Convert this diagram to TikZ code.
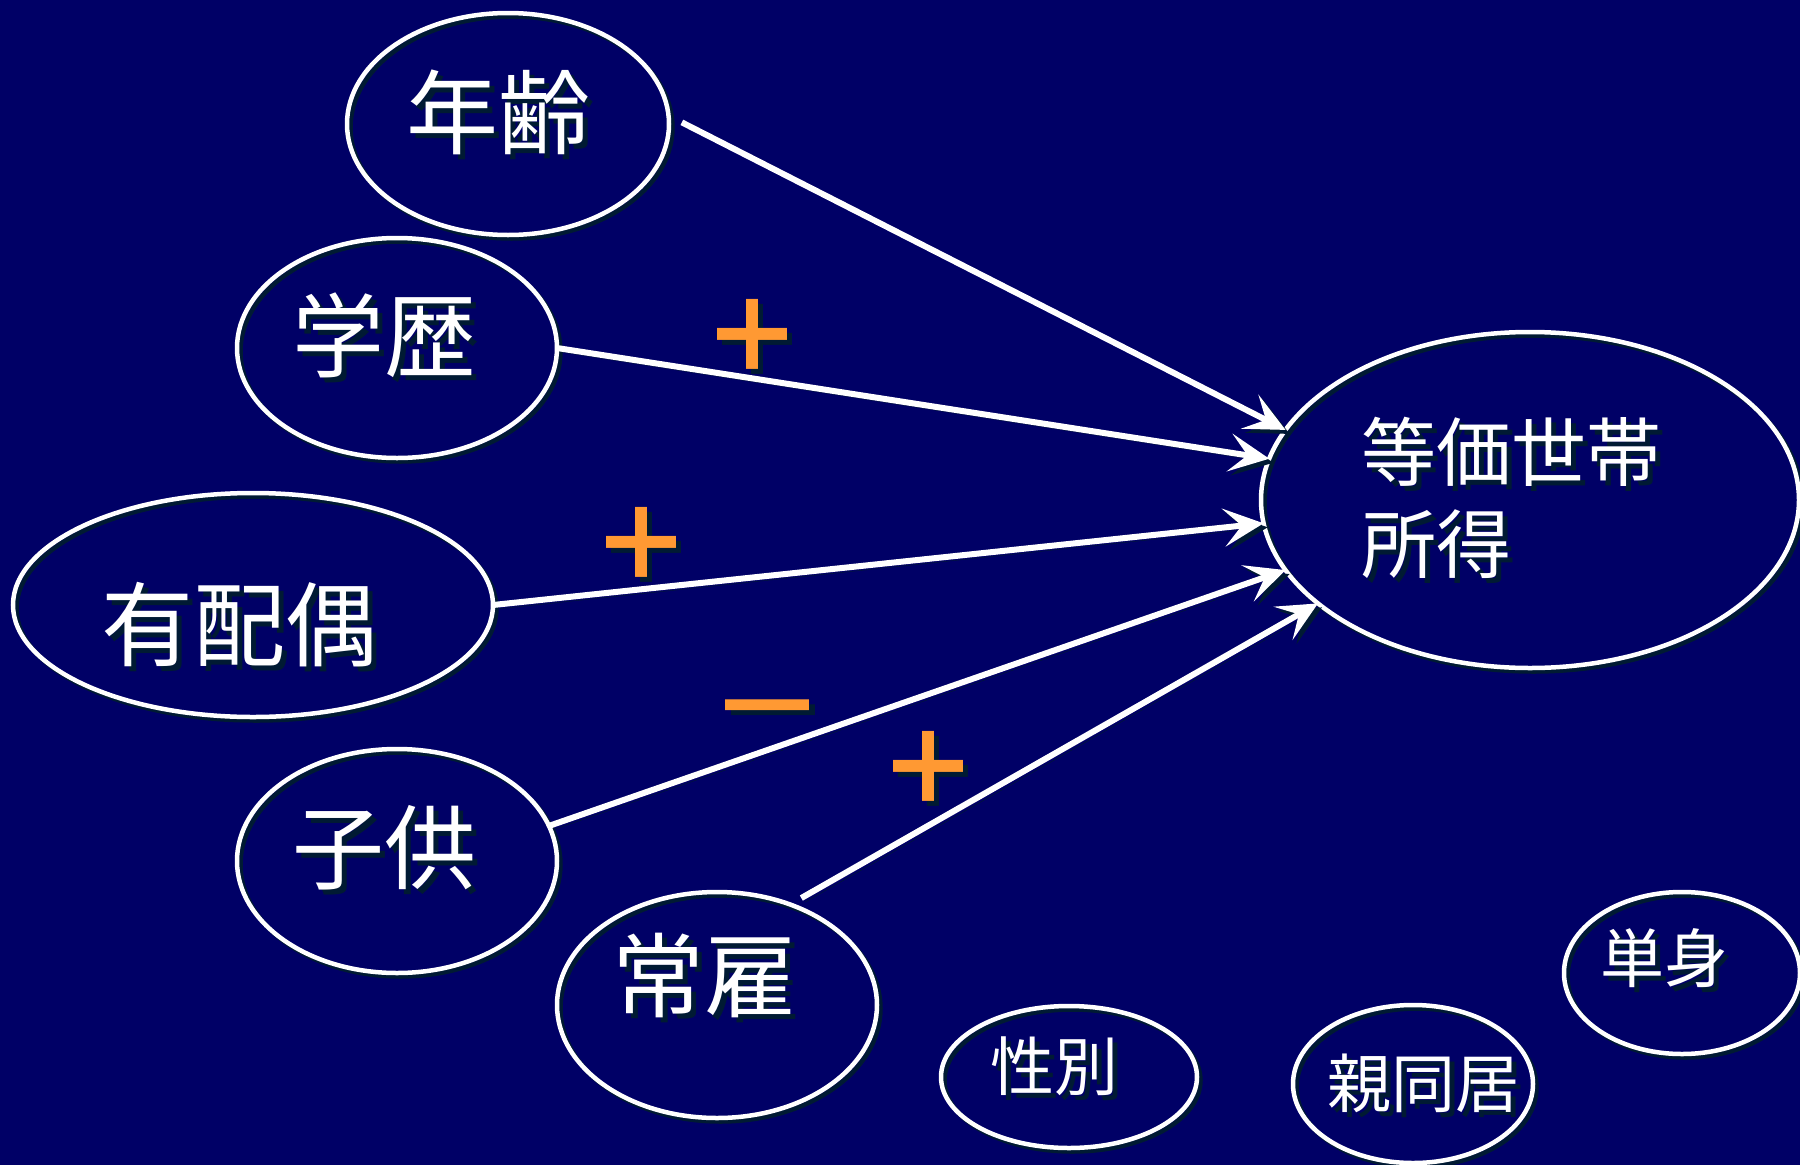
\documentclass[tikz,border=0pt]{standalone}
\usepackage{fontspec}
\setmainfont{Noto Sans CJK JP}
\usetikzlibrary{shapes.geometric,arrows.meta}
\definecolor{bg}{HTML}{000066}
\definecolor{shadowc}{HTML}{001A33}
\definecolor{plusc}{HTML}{FF9933}
\newcommand\shtxt[1]{\makebox[0pt][l]{\raisebox{-5pt}{\hspace{5pt}\textcolor{shadowc}{#1}}}#1}
\begin{document}
\begin{tikzpicture}[x=1pt,y=-1pt,
  oval/.style={ellipse, draw=white, line width=4.5pt, inner sep=0pt, outer sep=0pt,
     preaction={draw=shadowc, line width=4.5pt, transform canvas={shift={(3.5pt,-3.5pt)}}}},
  bigtxt/.style={text=white, font=\fontsize{92}{92}\selectfont, inner sep=0pt},
  midtxt/.style={text=white, font=\fontsize{75}{92}\selectfont, inner sep=0pt, align=left},
  smalltxt/.style={text=white, font=\fontsize{64}{64}\selectfont, inner sep=0pt},
  pm/.style={text=plusc, font=\fontsize{100}{100}\selectfont\bfseries, inner sep=0pt},
  conn/.style={draw=white, line width=6pt, -{Stealth[length=40pt,width=38pt,inset=18pt]},
     preaction={draw=shadowc, transform canvas={shift={(4pt,-4pt)}}}}
]
\fill[bg] (0,0) rectangle (1800,1165);
\useasboundingbox (0,0) rectangle (1800,1165);

\node[oval, minimum width=322pt, minimum height=222pt,
  label={[bigtxt, xshift=-10pt, yshift=9pt]center:\shtxt{年齢}}] (nenrei) at (508,124) {};
\node[oval, minimum width=320pt, minimum height=220pt,
  label={[bigtxt, xshift=-13pt, yshift=10pt]center:\shtxt{学歴}}] (gakureki) at (397,348) {};
\node[oval, minimum width=480pt, minimum height=224pt,
  label={[bigtxt, xshift=-14pt, yshift=-22pt]center:\shtxt{有配偶}}] (haiguu) at (253,605) {};
\node[oval, minimum width=320pt, minimum height=224pt,
  label={[bigtxt, xshift=-13pt, yshift=11pt]center:\shtxt{子供}}] (kodomo) at (397,861) {};
\node[oval, minimum width=320pt, minimum height=226pt,
  label={[bigtxt, xshift=-13pt, yshift=27pt]center:\shtxt{常雇}}] (joyo) at (717,1005) {};
\node[oval, minimum width=538pt, minimum height=336pt,
  label={[midtxt, xshift=-19pt, yshift=0pt]center:\shtxt{等価世帯}\\\shtxt{所得}}] (shotoku) at (1530,500) {};
\node[oval, minimum width=256pt, minimum height=142pt,
  label={[smalltxt, xshift=-15pt, yshift=8pt]center:\shtxt{性別}}] (seibetsu) at (1069,1077) {};
\node[oval, minimum width=240pt, minimum height=158pt,
  label={[smalltxt, xshift=10pt, yshift=-2pt]center:\shtxt{親同居}}] (dokyo) at (1413,1084) {};
\node[oval, minimum width=236pt, minimum height=162pt,
  label={[smalltxt, xshift=-18pt, yshift=12pt]center:\shtxt{単身}}] (tanshin) at (1682,973) {};

\draw[conn, shorten <=15pt] (nenrei.3) -- (shotoku.164);
\draw[conn] (gakureki.east) -- (shotoku.171);
\draw[conn] (haiguu.east) -- (shotoku.185);
\draw[conn] (kodomo.13) -- (shotoku.196);
\draw[conn, shorten <=13pt] (joyo.54) -- (shotoku.206);

\node[pm] (p1) at (752,338) {\shtxt{＋}};
\node[pm] (p2) at (641,546) {\shtxt{＋}};
\node[pm] (m1) at (767,722) {\scalebox{1.2}[0.9]{\shtxt{－}}};
\node[pm] (p3) at (928,770) {\shtxt{＋}};
\end{tikzpicture}
\end{document}
